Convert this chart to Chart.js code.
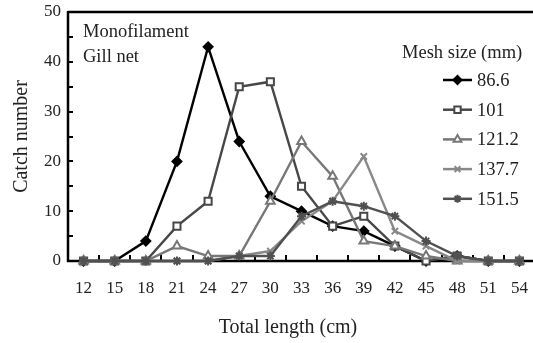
<!DOCTYPE html>
<html><head><meta charset="utf-8">
<script src="https://cdn.jsdelivr.net/npm/chart.js@4/dist/chart.umd.min.js"></script>
<style>html,body{margin:0;padding:0;background:#fff;overflow:hidden;width:533px;height:343px;}canvas{display:block;}</style>
</head><body>
<canvas id="c" width="542" height="343"></canvas>
<script>
// ---- data ----
const lengths = [12, 15, 18, 21, 24, 27, 30, 33, 36, 39, 42, 45, 48, 51, 54];
const meshLabels = ['86.6', '101', '121.2', '137.7', '151.5'];
const mesh866  = [0, 0, 4, 20, 43, 24, 13, 10, 7, 6, 3, 0, 1, 0, 0];
const mesh101  = [0, 0, 0, 7, 12, 35, 36, 15, 7, 9, 3, 0, 1, 0, 0];
const mesh1212 = [0, 0, 0, 3, 1, 1, 12, 24, 17, 4, 3, 1, 0, 0, 0];
const mesh1377 = [0, 0, 0, 0, 0, 1, 2, 8, 12, 21, 6, 3, 0, 0, 0];
const mesh1515 = [0, 0, 0, 0, 0, 1, 1, 9, 12, 11, 9, 4, 1, 0, 0];
const yTicks = [0, 10, 20, 30, 40, 50];
const xTitle = 'Total length (cm)';
const yTitle = 'Catch number';

const SERIF = '"Liberation Serif", "Times New Roman", serif';
const styles = [
  {color: '#000000', pointStyle: 'rectRot', radius: 4.5, fill: '#000000'},
  {color: '#474747', pointStyle: 'rect', radius: 5, fill: '#ffffff'},
  {color: '#777777', pointStyle: 'triangle', radius: 5, fill: '#ffffff'},
  {color: '#888888', pointStyle: 'crossRot', radius: 4.5, fill: '#888888'},
  {color: '#505050', pointStyle: 'star', radius: 4.5, fill: '#505050'}
];
const seriesData = [mesh866, mesh101, mesh1212, mesh1377, mesh1515];

const datasets = seriesData.map((d, i) => ({
  label: meshLabels[i],
  data: d,
  borderColor: styles[i].color,
  backgroundColor: styles[i].fill,
  pointBackgroundColor: styles[i].fill,
  pointBorderColor: styles[i].color,
  pointStyle: styles[i].pointStyle,
  pointRadius: styles[i].radius,
  pointBorderWidth: 2,
  borderWidth: 2.4,
  tension: 0,
  clip: false,
  order: 5 - i
}));

const framePlugin = {
  id: 'frame',
  beforeDatasetsDraw(chart) {
    const {ctx, chartArea: a, scales: {x, y}} = chart;
    ctx.save();
    ctx.strokeStyle = '#000';
    ctx.lineWidth = 2.5;
    ctx.beginPath();
    ctx.moveTo(a.left, a.top); ctx.lineTo(a.right, a.top);
    ctx.moveTo(a.left, a.top - 1); ctx.lineTo(a.left, a.bottom + 1);
    ctx.moveTo(a.left - 1, a.bottom); ctx.lineTo(a.right, a.bottom);
    ctx.stroke();
    ctx.lineWidth = 2;
    ctx.beginPath();
    for (let v = 5; v < 50; v += 5) {
      const py = Math.round(y.getPixelForValue(v));
      ctx.moveTo(a.left, py); ctx.lineTo(a.left + 5, py);
    }
    for (let i = 0; i < lengths.length - 1; i++) {
      const px = Math.round((x.getPixelForValue(i) + x.getPixelForValue(i + 1)) / 2);
      ctx.moveTo(px, a.bottom); ctx.lineTo(px, a.bottom - 6);
    }
    ctx.stroke();
    ctx.restore();
  },
  afterDraw(chart) {
    const {ctx} = chart;
    ctx.save();
    ctx.fillStyle = '#222';
    ctx.textBaseline = 'middle';
    ctx.textAlign = 'center';
    ctx.font = '20px ' + SERIF;
    ctx.fillText(xTitle, 288, 328);
    ctx.font = '18.5px ' + SERIF;
    ctx.textAlign = 'left';
    ctx.fillText('Monofilament', 83, 32);
    ctx.fillText('Gill net', 83, 57);
    ctx.fillText('Mesh size (mm)', 402, 53);
    const H = Chart.helpers;
    for (let i = 0; i < meshLabels.length; i++) {
      const ly = 80 + i * 29.7;
      ctx.strokeStyle = styles[i].color;
      ctx.lineWidth = 2.5;
      ctx.beginPath(); ctx.moveTo(443, ly); ctx.lineTo(472, ly); ctx.stroke();
      ctx.fillStyle = styles[i].fill;
      ctx.lineWidth = 2;
      if (H && H.drawPoint) {
        H.drawPoint(ctx, {pointStyle: styles[i].pointStyle, radius: styles[i].radius * 0.9, rotation: 0, borderWidth: 2}, 457.5, ly);
      }
      ctx.fillStyle = '#222';
      ctx.fillText(meshLabels[i], 477, ly + 1);
    }
    ctx.restore();
  }
};

new Chart(document.getElementById('c'), {
  type: 'line',
  data: {labels: lengths.map(String), datasets},
  plugins: [framePlugin],
  options: {
    responsive: false,
    animation: false,
    devicePixelRatio: 1,
    layout: {padding: {top: 12, right: 0, left: 0, bottom: 0}},
    plugins: {legend: {display: false}, tooltip: {enabled: false}},
    scales: {
      x: {
        type: 'category',
        offset: true,
        grid: {display: false, drawTicks: false},
        border: {display: false},
        ticks: {font: {family: SERIF, size: 17}, color: '#222', padding: 17, maxRotation: 0, autoSkip: false},
        title: {display: false},
        afterFit(s) { s.height = 82; s.paddingLeft = 0; s.paddingRight = 0; }
      },
      y: {
        min: 0, max: 50,
        afterBuildTicks(s) { s.ticks = yTicks.map(v => ({value: v})); },
        grid: {display: false, drawTicks: false},
        border: {display: false},
        ticks: {font: {family: SERIF, size: 17}, color: '#222', padding: 7},
        title: {display: true, text: yTitle, font: {family: SERIF, size: 20}, color: '#222', padding: {top: 10, bottom: 0}},
        afterFit(s) { s.width = 68; s.paddingTop = 0; s.paddingBottom = 0; }
      }
    }
  }
});
</script>
</body></html>
